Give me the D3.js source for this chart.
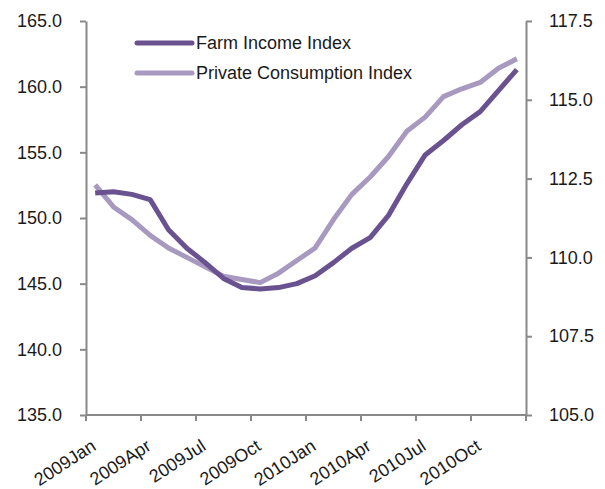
<!DOCTYPE html>
<html>
<head>
<meta charset="utf-8">
<script src="https://cdn.jsdelivr.net/npm/d3@7"></script>
<style>
  body { margin: 0; background: #fff; }
  svg text { font-family: "Liberation Sans", Arial, sans-serif; fill: #1a1a1a; }
  .axis path, .axis line { stroke: #898989; stroke-width: 2px; }
</style>
</head>
<body>
<div id="chart"></div>
<script>
const months = ["2009Jan","2009Feb","2009Mar","2009Apr","2009May","2009Jun","2009Jul","2009Aug","2009Sep","2009Oct","2009Nov","2009Dec",
                "2010Jan","2010Feb","2010Mar","2010Apr","2010May","2010Jun","2010Jul","2010Aug","2010Sep","2010Oct","2010Nov","2010Dec"];
const farmIncome = [151.9, 152.0, 151.8, 151.4, 149.1, 147.7, 146.6, 145.4, 144.7, 144.6, 144.7, 145.0,
                    145.6, 146.6, 147.7, 148.5, 150.2, 152.6, 154.8, 155.9, 157.1, 158.1, 159.7, 161.3];
const privateConsumption = [112.3, 111.6, 111.2, 110.7, 110.3, 110.0, 109.7, 109.4, 109.3, 109.2, 109.5, 109.9,
                            110.3, 111.2, 112.0, 112.55, 113.2, 114.0, 114.45, 115.1, 115.35, 115.55, 116.0, 116.3];
const leftTicks = [135, 140, 145, 150, 155, 160, 165];
const rightTicks = [105, 107.5, 110, 112.5, 115, 117.5];
const seriesNames = ["Farm Income Index", "Private Consumption Index"];
const seriesColors = ["#6a5291", "#a799bf"];

const width = 605, height = 489;
const margin = { top: 21, right: 79, bottom: 74, left: 86 };
const w = width - margin.left - margin.right;
const h = height - margin.top - margin.bottom;

const svg = d3.select("#chart").append("svg")
    .attr("width", width)
    .attr("height", height)
    .append("g")
    .attr("transform", `translate(${margin.left},${margin.top})`);

const x = d3.scaleBand().domain(months).range([0, w]);
const yLeft = d3.scaleLinear().domain([135, 165]).range([h, 0]);
const yRight = d3.scaleLinear().domain([105, 117.5]).range([h, 0]);

// left axis
svg.append("g")
    .attr("class", "axis")
    .call(d3.axisLeft(yLeft).tickValues(leftTicks).tickSize(6).tickSizeOuter(0).tickFormat(d3.format(".1f")))
    .call(g => g.selectAll("text").attr("x", -24).style("font-size", "18px"));

// right axis
svg.append("g")
    .attr("class", "axis")
    .attr("transform", `translate(${w},0)`)
    .call(d3.axisRight(yRight).tickValues(rightTicks).tickSize(6).tickSizeOuter(0).tickFormat(d3.format(".1f")))
    .call(g => g.selectAll("text").attr("x", 23).style("font-size", "18px"));

// bottom axis: tick marks every 3 months on band edges
const xAxis = svg.append("g")
    .attr("class", "axis")
    .attr("transform", `translate(0,${h})`);
xAxis.append("line")
    .attr("x1", 0).attr("x2", w)
    .attr("y1", 0).attr("y2", 0);
const edges = d3.range(0, months.length + 1, 3);
xAxis.selectAll(".tick-mark")
    .data(edges)
    .enter().append("line")
    .attr("x1", d => d < months.length ? x(months[d]) : w)
    .attr("x2", d => d < months.length ? x(months[d]) : w)
    .attr("y1", 0).attr("y2", 6);
xAxis.selectAll(".xlabel")
    .data(months.filter((m, i) => i % 3 === 0))
    .enter().append("text")
    .attr("text-anchor", "end")
    .style("font-size", "18px")
    .attr("transform", d => `translate(${x(d) + x.bandwidth() / 2 + 2},${34}) rotate(-33)`)
    .text(d => d);

// lines
const cx = d => x(d) + x.bandwidth() / 2;
const lineLeft = d3.line().x((d, i) => cx(months[i])).y(d => yLeft(d));
const lineRight = d3.line().x((d, i) => cx(months[i])).y(d => yRight(d));

svg.append("path")
    .datum(privateConsumption)
    .attr("fill", "none")
    .attr("stroke", seriesColors[1])
    .attr("stroke-width", 5)
    .attr("stroke-linejoin", "round")
    .attr("d", lineRight);

svg.append("path")
    .datum(farmIncome)
    .attr("fill", "none")
    .attr("stroke", seriesColors[0])
    .attr("stroke-width", 5)
    .attr("stroke-linejoin", "round")
    .attr("d", lineLeft);

// legend
const legend = svg.selectAll(".legend")
    .data(seriesNames)
    .enter().append("g")
    .attr("transform", (d, i) => `translate(${137 - margin.left},${43 - margin.top + i * 30})`);
legend.append("line")
    .attr("x1", 0).attr("x2", 55)
    .attr("stroke", (d, i) => seriesColors[i])
    .attr("stroke-width", 5)
    .attr("stroke-linecap", "round");
legend.append("text")
    .attr("x", 59)
    .attr("dy", "0.35em")
    .style("font-size", "18px")
    .text(d => d);
</script>
</body>
</html>
